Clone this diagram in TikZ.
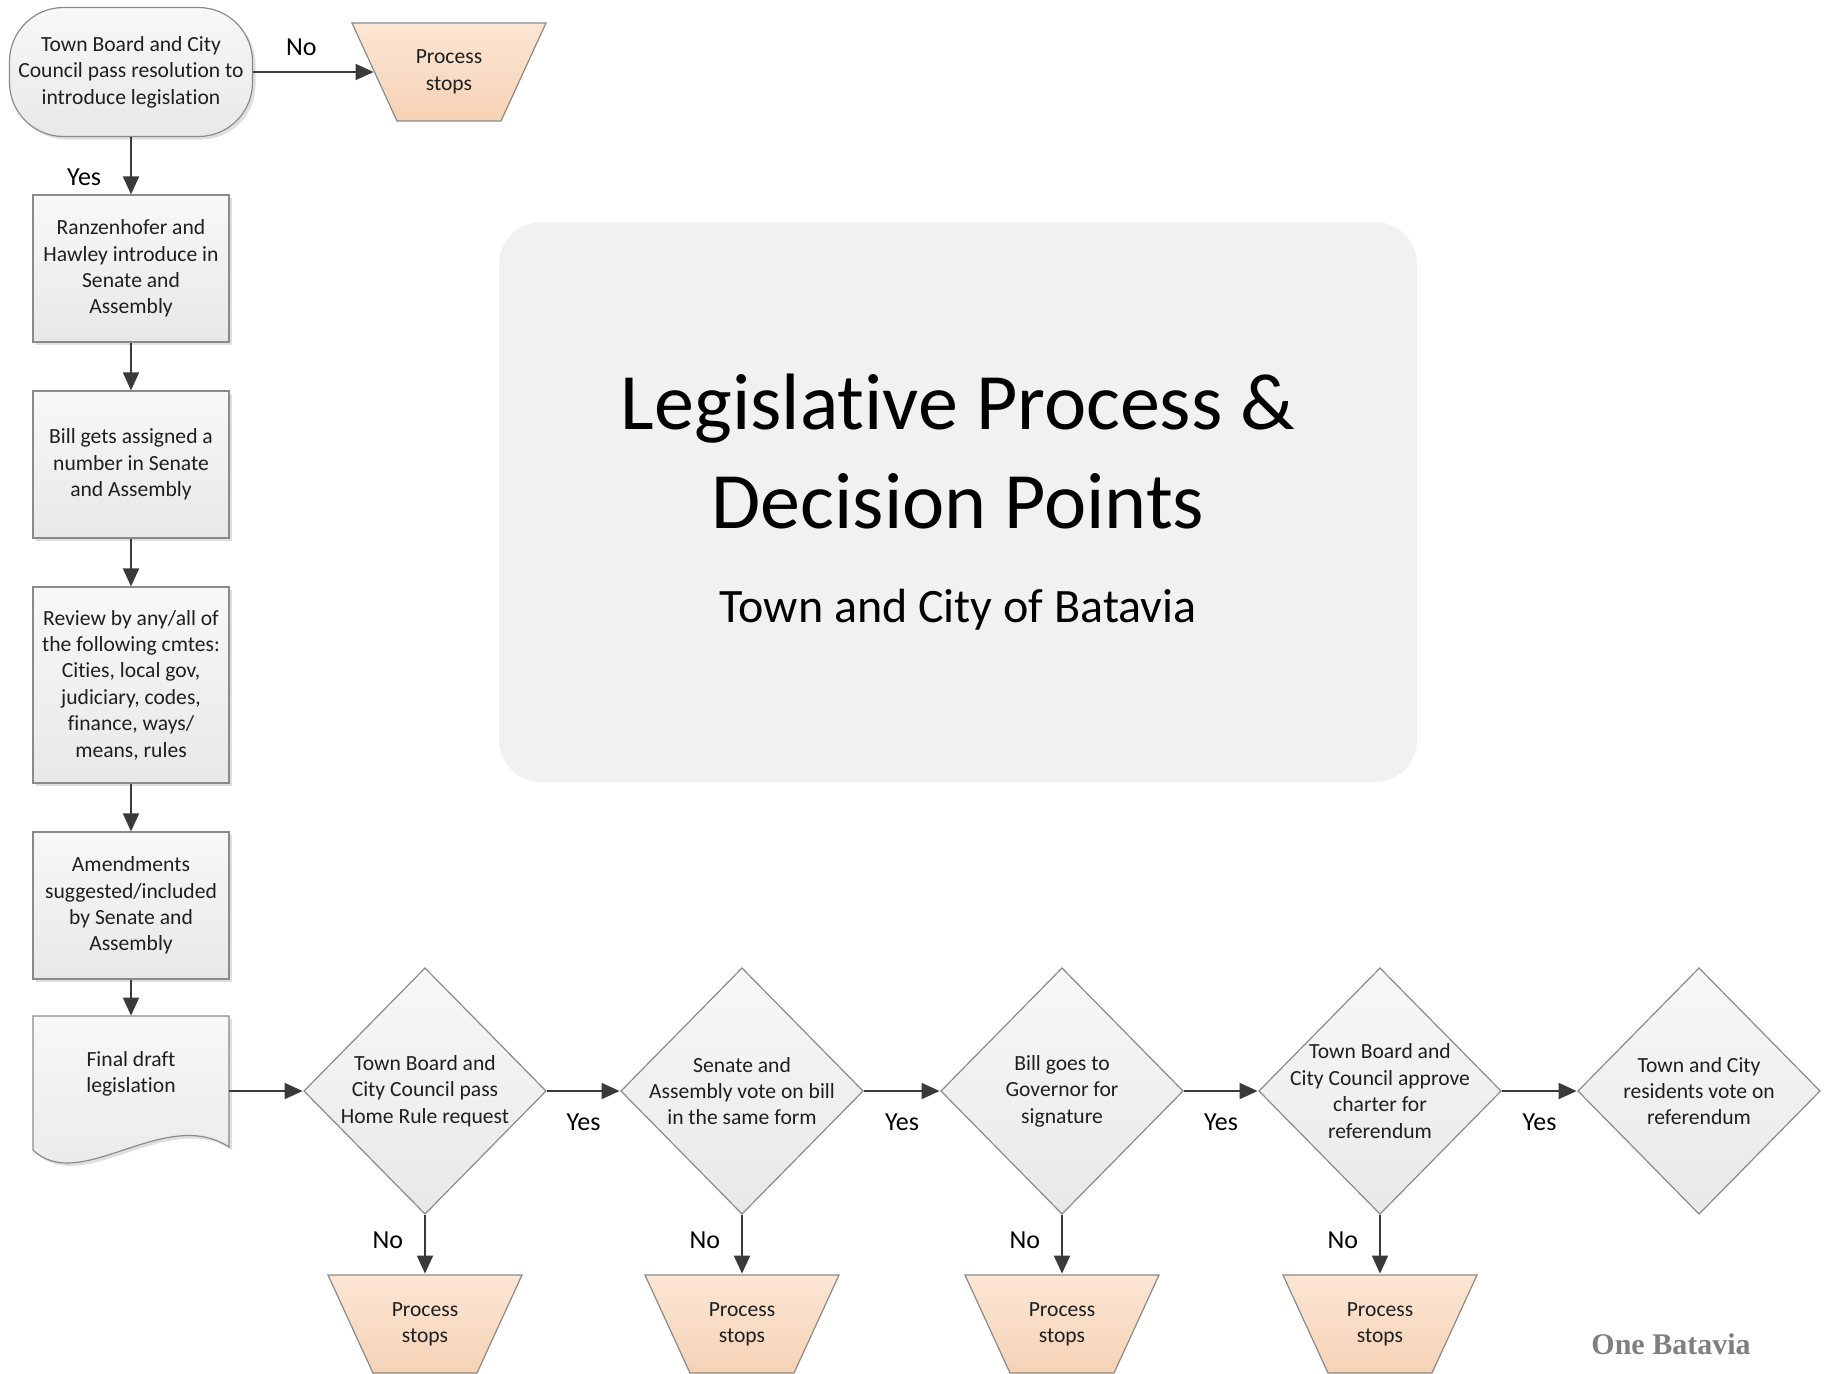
\documentclass[tikz,border=0pt]{standalone}
\usepackage{fontspec}
\setmainfont[Ligatures=NoCommon]{Carlito}
\newfontfamily\logofont{Liberation Serif}
\usepackage{tikz}
\usetikzlibrary{arrows.meta,shadows,positioning}

\definecolor{boxtop}{HTML}{F8F8F8}
\definecolor{boxbot}{HTML}{E8E8E8}
\definecolor{edgegray}{HTML}{8A8A8A}
\definecolor{stoptop}{HTML}{FCE6D4}
\definecolor{stopbot}{HTML}{F5D2B6}
\definecolor{arrowgray}{HTML}{3A3A3A}
\definecolor{titlegray}{HTML}{F1F1F1}
\definecolor{logogray}{HTML}{7F7F7F}

\begin{document}
\begin{tikzpicture}[x=0.5pt,y=-0.5pt,
  every node/.style={text=black!88},
  nodefont/.style={font=\fontsize{10.8}{13.2}\selectfont},
  softshadow/.style={drop shadow={shadow xshift=1.5pt,shadow yshift=-1.5pt,opacity=0.25}},
  terminal/.style={rectangle,rounded corners=27pt,draw=edgegray,line width=0.6pt,top color=boxtop,bottom color=boxbot,minimum width=121.5pt,minimum height=64.5pt,inner xsep=2pt,align=center,nodefont,softshadow},
  box/.style={rectangle,draw=edgegray,line width=0.6pt,top color=boxtop,bottom color=boxbot,minimum width=98pt,minimum height=73.5pt,inner xsep=2pt,align=center,nodefont,softshadow},
  stopbox/.style={rectangle,minimum width=98pt,minimum height=50pt,inner sep=0pt,align=center,nodefont,
    path picture={\path[draw=edgegray,line width=0.6pt,top color=stoptop,bottom color=stopbot]
      ([shift={(0.5pt,-0.5pt)}]path picture bounding box.north west) -- ([shift={(-0.5pt,-0.5pt)}]path picture bounding box.north east)
      -- ([shift={(-23pt,0.5pt)}]path picture bounding box.south east) -- ([shift={(23pt,0.5pt)}]path picture bounding box.south west) -- cycle;}},
  decision/.style={rectangle,minimum width=122pt,minimum height=124pt,inner sep=0pt,align=center,nodefont,
    path picture={\path[draw=edgegray,line width=0.6pt,top color=boxtop,bottom color=boxbot]
      ([yshift=-0.5pt]path picture bounding box.north) -- ([xshift=-0.5pt]path picture bounding box.east)
      -- ([yshift=0.5pt]path picture bounding box.south) -- ([xshift=0.5pt]path picture bounding box.west) -- cycle;}},
  answer/.style={font=\fontsize{13}{15}\selectfont,inner sep=0pt,text=black},
  flow/.style={draw=arrowgray,line width=0.9pt,-{Triangle[length=9pt,width=8pt]}},
]
  \useasboundingbox (0,0) rectangle (1830,1373);

  \node[fill=titlegray,rounded corners=21pt,minimum width=459pt,minimum height=280pt] (titlebox) at (958,502) {};
  \node[font=\fontsize{40}{49.5}\selectfont,align=center,text=black] (title) at (958,452) {Legislative Process \&\\Decision Points};
  \node[font=\fontsize{24}{28}\selectfont,text=black] (subtitle) at (958,610) {Town and City of Batavia};

  \node[terminal] (start) at (131,72) {Town Board and City\\Council pass resolution to\\introduce legislation};
  \node[stopbox] (stop0) at (449,72) {Process\\stops};
  \node[box] (box1) at (131,268.5) {Ranzenhofer and\\Hawley introduce in\\Senate and\\Assembly};
  \node[box] (box2) at (131,464.5) {Bill gets assigned a\\number in Senate\\and Assembly};
  \node[box,minimum height=98pt] (box3) at (131,685) {Review by any/all of\\the following cmtes:\\Cities, local gov,\\judiciary, codes,\\finance, ways/\\means, rules};
  \node[box] (box4) at (131,905.5) {Amendments\\suggested/included\\by Senate and\\Assembly};

  \draw[draw=edgegray,line width=0.6pt,top color=boxtop,bottom color=boxbot,softshadow] (33,1016) -- (229,1016) -- (229,1147)
    .. controls (165,1105) and (80,1195) .. (33,1150) -- cycle;
  \node[minimum width=98pt,minimum height=75pt,label={[align=center,nodefont,yshift=8.5pt]center:Final draft\\legislation}] (draft) at (131,1091) {};

  \node[decision] (d1) at (425,1091) {Town Board and\\City Council pass\\Home Rule request};
  \node[decision] (d2) at (742,1091) {Senate and\\Assembly vote on bill\\in the same form};
  \node[decision] (d3) at (1062,1091) {Bill goes to\\Governor for\\signature};
  \node[decision] (d4) at (1380,1091) {Town Board and\\City Council approve\\charter for\\referendum};
  \node[decision] (d5) at (1699,1091) {Town and City\\residents vote on\\referendum};

  \node[stopbox] (stop1) at (425,1324) {Process\\stops};
  \node[stopbox] (stop2) at (742,1324) {Process\\stops};
  \node[stopbox] (stop3) at (1062,1324) {Process\\stops};
  \node[stopbox] (stop4) at (1380,1324) {Process\\stops};

  \draw[flow] (start) -- node[answer,pos=0.4,above=7.5pt] {No} ([xshift=11.5pt]stop0.west);
  \draw[flow] (start) -- node[answer,pos=0.7,left=14.5pt] {Yes} (box1);
  \draw[flow] (box1) -- (box2);
  \draw[flow] (box2) -- (box3);
  \draw[flow] (box3) -- (box4);
  \draw[flow] (box4) -- (draft);
  \draw[flow] (draft) -- (d1);
  \draw[flow] (d1) -- node[answer,below=11pt] {Yes} (d2);
  \draw[flow] (d2) -- node[answer,below=11pt] {Yes} (d3);
  \draw[flow] (d3) -- node[answer,below=11pt] {Yes} (d4);
  \draw[flow] (d4) -- node[answer,below=11pt] {Yes} (d5);
  \draw[flow] (d1) -- node[answer,pos=0.42,left=10.5pt] {No} (stop1);
  \draw[flow] (d2) -- node[answer,pos=0.42,left=10.5pt] {No} (stop2);
  \draw[flow] (d3) -- node[answer,pos=0.42,left=10.5pt] {No} (stop3);
  \draw[flow] (d4) -- node[answer,pos=0.42,left=10.5pt] {No} (stop4);

  \node[font=\logofont\bfseries\fontsize{15}{17}\selectfont,text=logogray] (logo) at (1671,1344) {One Batavia};
\end{tikzpicture}
\end{document}
